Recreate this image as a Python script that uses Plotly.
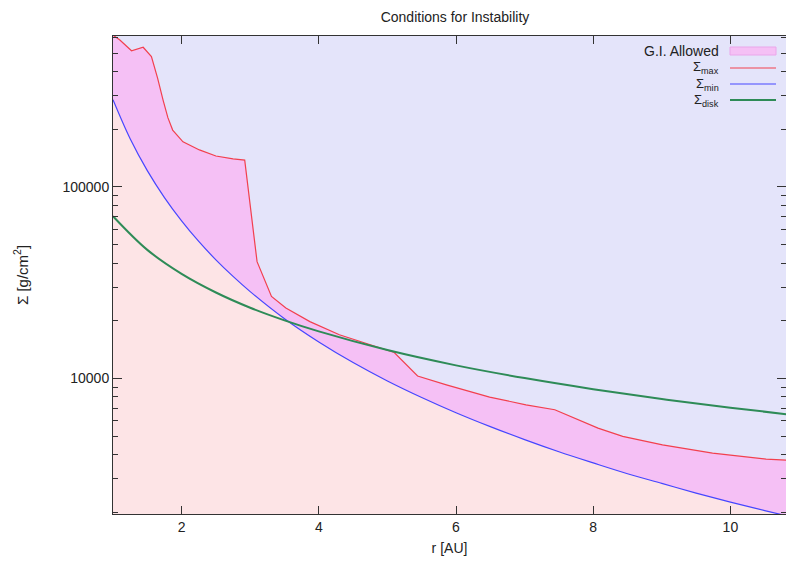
import plotly.graph_objects as go

# ---- data ----
r_max = [1.0, 1.1, 1.27, 1.44, 1.56, 1.65, 1.73, 1.8, 1.87, 2.02, 2.26, 2.5, 2.75, 2.92,
         3.1, 3.31, 3.52, 3.87, 4.3, 4.74, 5.1, 5.44, 5.86, 6.49, 7.02, 7.44, 8.07, 8.43,
         9.01, 9.74, 10.52, 10.91]
sig_max = [620000, 585000, 514000, 536000, 479000, 370000, 284000, 230000, 198000, 172000,
           156000, 145000, 140000, 138000, 40700, 26800, 23300, 19800, 16900, 15000, 13650,
           10300, 9260, 7990, 7280, 6860, 5500, 4980, 4500, 4070, 3790, 3730]

r_min = [1.0, 1.25, 1.5, 1.75, 2.0, 2.25, 2.5, 2.75, 3.0, 3.5, 4.0, 4.5, 5.0, 5.5, 6.0,
         6.5, 7.0, 7.5, 8.0, 8.5, 9.0, 9.5, 10.0, 10.5, 11.0]
sig_min = [285000, 178300, 121600, 88000, 66500, 51900, 41600, 34100, 28400, 20500, 15500,
           12100, 9700, 7950, 6620, 5600, 4790, 4140, 3620, 3180, 2830, 2520, 2260, 2040, 1850]

r_disk = [1.0, 1.5, 2.0, 2.5, 3.0, 3.5, 4.0, 5.0, 6.0, 7.0, 8.0, 9.0, 10.0, 11.0]
sig_disk = [70300, 46900, 35150, 28100, 23400, 20100, 17600, 14060, 11700, 10040, 8790,
            7810, 7030, 6390]

x_tickvals = [2, 4, 6, 8, 10]
y_major = [10000, 100000]
y_major_text = ["10000", "100000"]
y_minor = [2000, 3000, 4000, 5000, 6000, 7000, 8000, 9000,
           20000, 30000, 40000, 50000, 60000, 70000, 80000, 90000,
           200000, 300000, 400000, 500000, 600000]

legend_labels = ["G.I. Allowed", "Σ<sub>max</sub>", "Σ<sub>min</sub>", "Σ<sub>disk</sub>"]

# ---- styles ----
FONT = "Liberation Sans, Arial, sans-serif"
BG = "#e4e4fa"
PINK = "#fde4e6"
ALLOWED = "#f5c0f5"
RED = "#f2404e"
BLUE = "#4646ff"
GREEN = "#2e8b57"
AXIS = "#333333"
TEXT = "#222222"

fig = go.Figure()
fig.add_trace(go.Scatter(x=r_min, y=sig_min, mode="lines",
                         line=dict(width=0, shape="spline"), fill="tozeroy",
                         fillcolor=PINK, showlegend=False, hoverinfo="skip"))
fig.add_trace(go.Scatter(x=r_max, y=sig_max, mode="lines",
                         line=dict(width=0), fill="tonexty",
                         fillcolor=ALLOWED, name="G.I. Allowed", showlegend=False))
fig.add_trace(go.Scatter(x=r_max, y=sig_max, mode="lines", showlegend=False,
                         line=dict(color=RED, width=1.2), name="Σmax"))
fig.add_trace(go.Scatter(x=r_min, y=sig_min, mode="lines", showlegend=False,
                         line=dict(color=BLUE, width=1.2, shape="spline"), name="Σmin"))
fig.add_trace(go.Scatter(x=r_disk, y=sig_disk, mode="lines", showlegend=False,
                         line=dict(color=GREEN, width=2, shape="spline"), name="Σdisk"))

# the page places the figure 8 px from the top-left corner of the window;
# keep the whole page inside the window so no scrollbars appear
OFF = 8
W, H = 794 - 2 * OFF, 564 - 2 * OFF
L, R, T, B = 113 - OFF, 0, 36 - OFF, 42
pw = W - L - R
ph = H - T - B

def px_x(p):   # window pixel -> paper fraction
    return (p - OFF - L) / pw

def px_y(p):
    return (H - B - (p - OFF)) / ph

# key (gnuplot style: text on the left, sample on the right)
row_y = [51, 68, 84, 100]
key_styles = [("fill", ALLOWED, "#eaa6ea", 1), ("line", RED, RED, 1.2),
              ("line", BLUE, BLUE, 1.2), ("line", GREEN, GREEN, 2)]
annotations = []
shapes = []
for lab, yy, (kind, c1, c2, w) in zip(legend_labels, row_y, key_styles):
    annotations.append(dict(text=lab, x=px_x(721), y=px_y(yy + (0 if kind == "fill" else 0)),
                            xref="paper", yref="paper",
                            xanchor="right", yanchor="middle", showarrow=False,
                            font=dict(family=FONT, size=14 if kind == "fill" else 13,
                                      color=TEXT)))
    if kind == "fill":
        shapes.append(dict(type="rect", xref="paper", yref="paper",
                           x0=px_x(730), x1=px_x(776), y0=px_y(yy - 4), y1=px_y(yy + 4),
                           fillcolor=c1, line=dict(color=c2, width=w)))
    else:
        shapes.append(dict(type="line", xref="paper", yref="paper",
                           x0=px_x(730), x1=px_x(776), y0=px_y(yy), y1=px_y(yy),
                           line=dict(color=c1, width=w)))

fig.update_layout(
    width=W, height=H,
    margin=dict(l=L, r=R, t=T, b=B),
    paper_bgcolor="white", plot_bgcolor=BG,
    font=dict(family=FONT, size=14, color=TEXT),
    title=dict(text="Conditions for Instability", x=px_x(455), xref="paper",
               y=1 - (17 - OFF) / H, yref="container", xanchor="center", yanchor="middle",
               font=dict(family=FONT, size=14, color=TEXT)),
    showlegend=False,
    annotations=annotations,
    shapes=shapes,
)
fig.update_xaxes(range=[1, 1 + pw / 68.6], tickmode="array", tickvals=x_tickvals,
                 ticks="inside", ticklen=8, tickcolor=AXIS, showline=True,
                 linecolor=AXIS, linewidth=1, mirror="ticks", showgrid=False,
                 zeroline=False, tickfont=dict(size=14),
                 title=dict(text="r [AU]", standoff=9, font=dict(size=14)))
fig.update_yaxes(type="log", range=[3.292, 5.788], tickmode="array",
                 tickvals=y_major, ticktext=y_major_text,
                 ticks="inside", ticklen=9, tickcolor=AXIS, showline=True,
                 linecolor=AXIS, linewidth=1, mirror="ticks", showgrid=False,
                 zeroline=False, tickfont=dict(size=14),
                 minor=dict(tickmode="array", tickvals=y_minor, ticks="inside",
                            ticklen=5, tickcolor=AXIS, showgrid=False),
                 title=dict(text="Σ [g/cm<sup>2</sup>]", standoff=30, font=dict(size=15)))

fig.write_html("out.html")
